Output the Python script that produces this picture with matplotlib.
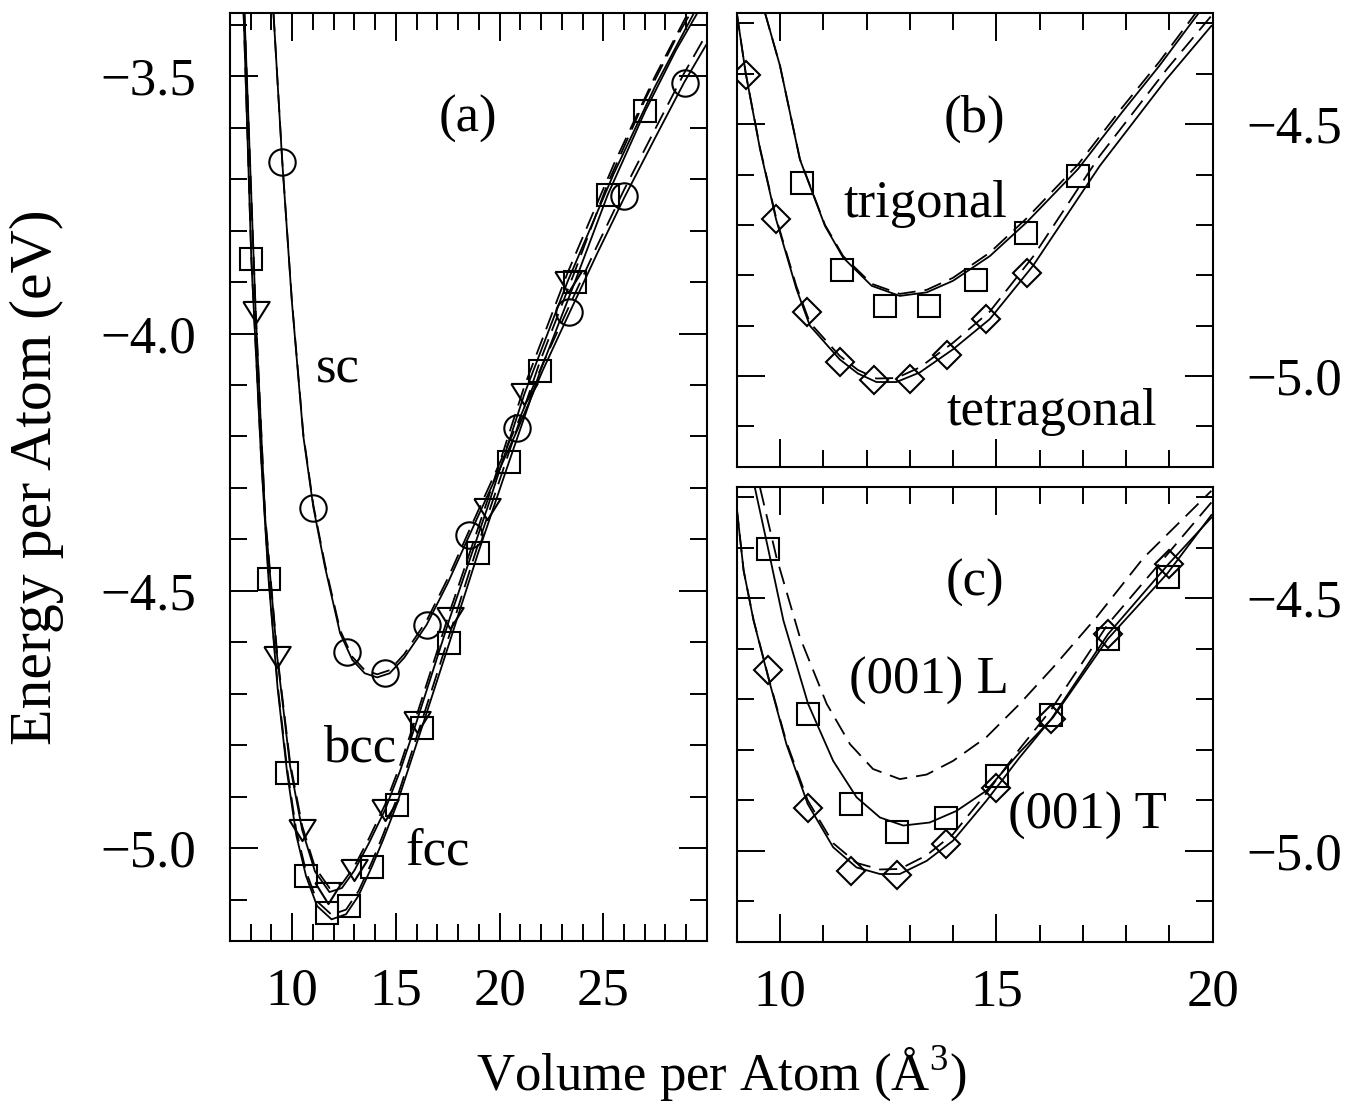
import matplotlib
matplotlib.use("Agg")
import matplotlib.pyplot as plt
from matplotlib.ticker import MultipleLocator, FuncFormatter

plt.rcParams['font.family'] = ['Liberation Serif', 'DejaVu Serif']
plt.rcParams['mathtext.fontset'] = 'custom'
plt.rcParams['mathtext.rm'] = 'Liberation Serif'

# ---------------- panel (a) data ----------------
sc_v = [9.52, 11.02, 12.62, 14.47, 16.48, 18.53, 20.85, 23.33, 26.01, 28.92]
sc_e = [-3.666, -4.338, -4.619, -4.660, -4.566, -4.391, -4.184, -3.959, -3.733, -3.513]
fcc_v = [8.03, 8.86, 9.76, 10.67, 11.68, 12.74, 13.84, 15.04, 16.24, 17.57, 18.96, 20.45, 21.96, 23.64, 25.21, 27.02]
fcc_e = [-3.856, -4.477, -4.854, -5.054, -5.126, -5.113, -5.036, -4.915, -4.767, -4.602, -4.427, -4.250, -4.073, -3.899, -3.731, -3.568]
bcc_v = [8.24, 9.28, 10.48, 11.73, 13.0, 14.48, 16.0, 17.6, 19.4, 21.2, 23.28]
bcc_e = [-3.959, -4.629, -4.964, -5.087, -5.043, -4.925, -4.754, -4.553, -4.340, -4.117, -3.899]

sc_fit_v = [9.10, 9.52, 9.98, 10.54, 11.02, 11.58, 12.31, 12.9, 13.5, 14.1, 14.7, 15.4, 16.48, 17.5, 18.51, 19.7, 20.85, 22.1, 23.32, 24.7, 26.0, 27.5, 28.89, 29.95]
sc_fit_e = [-3.378, -3.665, -3.935, -4.200, -4.337, -4.453, -4.582, -4.634, -4.660, -4.668, -4.660, -4.630, -4.566, -4.485, -4.395, -4.290, -4.188, -4.070, -3.964, -3.845, -3.737, -3.620, -3.513, -3.440]
sc_dash_e = [-3.378, -3.663, -3.932, -4.196, -4.333, -4.448, -4.576, -4.628, -4.654, -4.662, -4.654, -4.623, -4.558, -4.476, -4.385, -4.279, -4.176, -4.057, -3.950, -3.830, -3.721, -3.603, -3.495, -3.420]

fcc_fit_v = [7.66, 8.03, 8.5, 8.86, 9.3, 9.76, 10.2, 10.67, 11.2, 11.9, 12.6, 13.2, 13.84, 14.4, 15.04, 16.24, 17.57, 18.96, 20.45, 21.96, 23.64, 25.21, 27.02, 28.5, 29.93]
fcc_fit_e = [-3.378, -3.856, -4.24, -4.477, -4.69, -4.854, -4.975, -5.054, -5.112, -5.138, -5.128, -5.092, -5.036, -4.982, -4.915, -4.767, -4.602, -4.427, -4.250, -4.073, -3.899, -3.731, -3.568, -3.450, -3.350]
fcc_dash_e = [-3.378, -3.852, -4.235, -4.471, -4.683, -4.846, -4.966, -5.045, -5.103, -5.129, -5.119, -5.083, -5.027, -4.972, -4.904, -4.754, -4.587, -4.410, -4.231, -4.053, -3.878, -3.709, -3.545, -3.427, -3.327]

bcc_fit_v = [7.70, 8.24, 8.7, 9.28, 9.9, 10.48, 11.1, 11.8, 12.4, 13.0, 13.7, 14.48, 15.2, 16.0, 17.6, 19.4, 21.2, 23.28, 25.5, 27.5, 29.93]
bcc_fit_e = [-3.378, -3.959, -4.36, -4.629, -4.84, -4.964, -5.045, -5.085, -5.077, -5.043, -4.990, -4.925, -4.850, -4.754, -4.553, -4.340, -4.117, -3.899, -3.690, -3.520, -3.335]
bcc_dash_e = [-3.378, -3.955, -4.355, -4.623, -4.833, -4.956, -5.037, -5.077, -5.069, -5.035, -4.981, -4.915, -4.839, -4.742, -4.540, -4.326, -4.102, -3.882, -3.672, -3.500, -3.312]

# ---------------- panel (b) data ----------------
trig_v = [10.52, 11.44, 12.42, 13.45, 14.54, 15.68, 16.89]
trig_e = [-4.616, -4.789, -4.862, -4.862, -4.809, -4.717, -4.603]
tet_v = [9.21, 9.91, 10.62, 11.39, 12.17, 13.0, 13.87, 14.77, 15.70]
tet_e = [-4.403, -4.689, -4.872, -4.973, -5.007, -5.005, -4.959, -4.886, -4.795]

trig_fit_v = [9.65, 10.0, 10.46, 11.04, 11.46, 12.12, 12.77, 13.39, 14.0, 14.85, 15.70, 16.89, 17.9, 18.77, 19.69]
trig_fit_e = [-4.278, -4.384, -4.570, -4.702, -4.765, -4.821, -4.841, -4.834, -4.811, -4.762, -4.695, -4.589, -4.477, -4.384, -4.278]
trig_dash_e = [-4.278, -4.384, -4.569, -4.700, -4.762, -4.817, -4.837, -4.829, -4.805, -4.755, -4.687, -4.580, -4.468, -4.376, -4.270]

tet_fit_v = [9.0, 9.21, 9.54, 9.91, 10.38, 10.69, 11.38, 11.8, 12.23, 12.69, 13.23, 14.0, 14.85, 15.85, 17.39, 18.93, 19.97]
tet_fit_e = [-4.278, -4.400, -4.550, -4.689, -4.827, -4.900, -4.967, -4.995, -5.012, -5.012, -4.993, -4.947, -4.887, -4.781, -4.583, -4.411, -4.305]
tet_dash_e = [-4.278, -4.400, -4.548, -4.686, -4.822, -4.894, -4.960, -4.988, -5.005, -5.004, -4.983, -4.934, -4.872, -4.763, -4.563, -4.392, -4.285]

# ---------------- panel (c) data ----------------
L_v = [9.73, 10.65, 11.65, 12.71, 13.83, 15.02, 16.27, 17.58, 18.96]
L_e = [-4.403, -4.729, -4.907, -4.962, -4.936, -4.851, -4.731, -4.580, -4.458]
T_v = [9.73, 10.64, 11.65, 12.71, 13.83, 15.0, 16.27, 17.58, 18.98]
T_e = [-4.642, -4.915, -5.040, -5.048, -4.986, -4.876, -4.739, -4.571, -4.432]

L_fit_v = [9.42, 9.73, 10.08, 10.65, 11.23, 11.77, 12.31, 12.85, 13.46, 14.08, 14.77, 15.54, 16.31, 17.58, 18.96, 19.97]
L_fit_e = [-4.281, -4.403, -4.544, -4.709, -4.822, -4.894, -4.934, -4.950, -4.944, -4.921, -4.881, -4.805, -4.736, -4.580, -4.450, -4.335]
L_dash_v = [9.54, 9.92, 10.46, 11.08, 11.62, 12.15, 12.77, 13.39, 14.0, 14.77, 15.54, 16.31, 17.31, 18.4, 19.97]
L_dash_e = [-4.281, -4.419, -4.577, -4.709, -4.789, -4.838, -4.858, -4.849, -4.822, -4.775, -4.709, -4.637, -4.538, -4.420, -4.287]

T_fit_v = [9.0, 9.16, 9.39, 9.73, 10.15, 10.64, 11.23, 11.77, 12.31, 12.77, 13.39, 14.0, 14.77, 15.54, 16.27, 17.58, 18.98, 19.97]
T_fit_e = [-4.320, -4.445, -4.544, -4.657, -4.789, -4.907, -4.993, -5.033, -5.046, -5.046, -5.020, -4.980, -4.901, -4.815, -4.739, -4.571, -4.432, -4.340]
T_dash_e = [-4.320, -4.445, -4.543, -4.655, -4.785, -4.900, -4.985, -5.024, -5.037, -5.036, -5.009, -4.967, -4.886, -4.798, -4.720, -4.551, -4.410, -4.310]

a_xticks = [10, 15, 20, 25]
bc_xticks = [10, 15, 20]

# ---------------- figure ----------------
fig = plt.figure(figsize=(13.51, 11.09), dpi=100)
ax_a = fig.add_axes([0.1702, 0.1515, 0.3531, 0.8365])
ax_b = fig.add_axes([0.5453, 0.5792, 0.3523, 0.4088])
ax_c = fig.add_axes([0.5453, 0.1509, 0.3523, 0.4097])

FS = 38
LW = 1.3
DASH = (0, (10, 5))
mk = dict(mfc='none', mec='black', mew=1.5, ls='none')
tri = [(-1, 0.8), (1, 0.8), (0, -0.8), (-1, 0.8)]

minus_fmt = FuncFormatter(lambda v, p: ('\u2212%.1f' % abs(v)) if v < 0 else '%.1f' % v)

def style(ax, xlim, ylim, xticks):
    ax.set_xlim(*xlim)
    ax.set_ylim(*ylim)
    ax.set_xticks(xticks)
    ax.xaxis.set_minor_locator(MultipleLocator(1))
    ax.yaxis.set_major_locator(MultipleLocator(0.5))
    ax.yaxis.set_minor_locator(MultipleLocator(0.1))
    ax.yaxis.set_major_formatter(minus_fmt)
    ax.tick_params(which='both', direction='in', top=True, right=True, width=1.4, labelsize=FS)
    ax.tick_params(which='major', length=20)
    ax.tick_params(which='minor', length=12)
    ax.tick_params(axis='y', pad=24)
    ax.tick_params(axis='x', pad=19)
    for s in ax.spines.values():
        s.set_linewidth(1.5)

# (a)
ax_a.plot(sc_fit_v, sc_fit_e, 'k-', lw=LW)
ax_a.plot(sc_fit_v, sc_dash_e, 'k', ls=DASH, lw=LW)
ax_a.plot(fcc_fit_v, fcc_fit_e, 'k-', lw=LW)
ax_a.plot(fcc_fit_v, fcc_dash_e, 'k', ls=DASH, lw=LW)
ax_a.plot(bcc_fit_v, bcc_fit_e, 'k-', lw=LW)
ax_a.plot(bcc_fit_v, bcc_dash_e, 'k', ls=DASH, lw=LW)
ax_a.plot(sc_v, sc_e, marker='o', ms=19, **mk)
ax_a.plot(fcc_v, fcc_e, marker='s', ms=16.5, **mk)
ax_a.plot(bcc_v, bcc_e, marker=tri, ms=19, **mk)
style(ax_a, (7, 30), (-5.18, -3.378), a_xticks)
ax_a.text(18.47, -3.608, '(a)', fontsize=FS, ha='center', va='baseline')
ax_a.text(12.18, -4.096, 'sc', fontsize=FS, ha='center', va='baseline')
ax_a.text(13.24, -4.832, 'bcc', fontsize=FS, ha='center', va='baseline')
ax_a.text(17.0, -5.032, 'fcc', fontsize=FS, ha='center', va='baseline')

# (b)
ax_b.plot(trig_fit_v, trig_fit_e, 'k-', lw=LW)
ax_b.plot(trig_fit_v, trig_dash_e, 'k', ls=DASH, lw=LW)
ax_b.plot(tet_fit_v, tet_fit_e, 'k-', lw=LW)
ax_b.plot(tet_fit_v, tet_dash_e, 'k', ls=DASH, lw=LW)
ax_b.plot(trig_v, trig_e, marker='s', ms=16.5, **mk)
ax_b.plot(tet_v, tet_e, marker='D', ms=14.5, **mk)
style(ax_b, (9, 20), (-5.18, -4.28), bc_xticks)
ax_b.tick_params(labelleft=False, labelright=True, labelbottom=False)
ax_b.text(14.5, -4.515, '(b)', fontsize=FS, ha='center', va='baseline')
ax_b.text(13.35, -4.684, 'trigonal', fontsize=FS, ha='center', va='baseline')
ax_b.text(16.27, -5.097, 'tetragonal', fontsize=FS, ha='center', va='baseline')

# (c)
ax_c.plot(L_fit_v, L_fit_e, 'k-', lw=LW)
ax_c.plot(L_dash_v, L_dash_e, 'k', ls=DASH, lw=LW)
ax_c.plot(T_fit_v, T_fit_e, 'k-', lw=LW)
ax_c.plot(T_fit_v, T_dash_e, 'k', ls=DASH, lw=LW)
ax_c.plot(L_v, L_e, marker='s', ms=16.5, **mk)
ax_c.plot(T_v, T_e, marker='D', ms=14.5, **mk)
style(ax_c, (9, 20), (-5.18, -4.28), bc_xticks)
ax_c.tick_params(labelleft=False, labelright=True)
ax_c.text(14.5, -4.495, '(c)', fontsize=FS, ha='center', va='baseline')
ax_c.text(13.44, -4.689, '(001) L', fontsize=FS, ha='center', va='baseline')
ax_c.text(17.1, -4.957, '(001) T', fontsize=FS, ha='center', va='baseline')

fig.text(0.0274, 0.5699, 'Energy per Atom (eV)', fontsize=43, rotation=90, ha='center', va='center')
fig.text(0.534, 0.032, 'Volume per Atom (Å$^3$)', fontsize=FS, ha='center', va='center')

fig.savefig('out.png', dpi=100)
